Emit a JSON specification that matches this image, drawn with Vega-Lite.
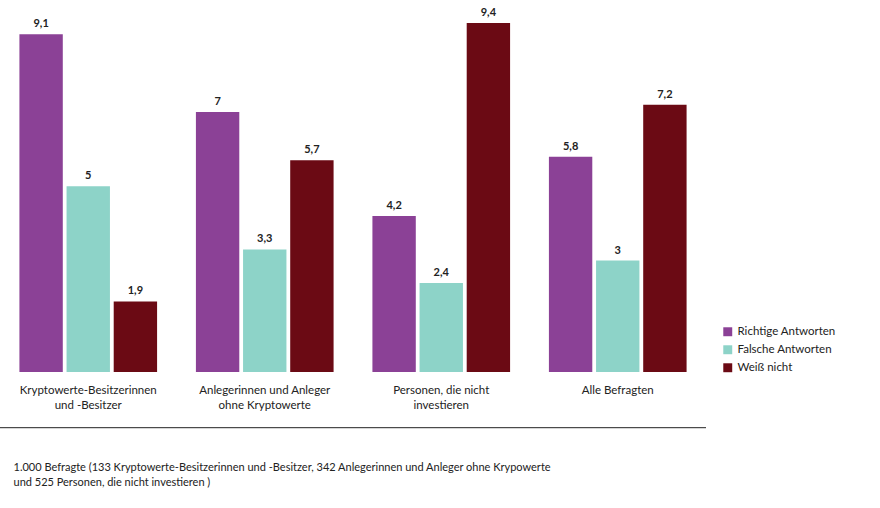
{
  "$schema": "https://vega.github.io/schema/vega-lite/v6.json",
  "width": 706,
  "height": 349,
  "padding": {"top": 23, "left": 0, "right": 174, "bottom": 136},
  "autosize": "none",
  "config": {"view": {"stroke": null}, "font": "Lato", "background": "white"},
  "data": {"values": [
    {"g": "Kryptowerte-Besitzerinnen|und -Besitzer", "s": "Richtige Antworten", "v": 9.1},
    {"g": "Kryptowerte-Besitzerinnen|und -Besitzer", "s": "Falsche Antworten", "v": 5},
    {"g": "Kryptowerte-Besitzerinnen|und -Besitzer", "s": "Weiß nicht", "v": 1.9},
    {"g": "Anlegerinnen und Anleger|ohne Kryptowerte", "s": "Richtige Antworten", "v": 7},
    {"g": "Anlegerinnen und Anleger|ohne Kryptowerte", "s": "Falsche Antworten", "v": 3.3},
    {"g": "Anlegerinnen und Anleger|ohne Kryptowerte", "s": "Weiß nicht", "v": 5.7},
    {"g": "Personen, die nicht|investieren", "s": "Richtige Antworten", "v": 4.2},
    {"g": "Personen, die nicht|investieren", "s": "Falsche Antworten", "v": 2.4},
    {"g": "Personen, die nicht|investieren", "s": "Weiß nicht", "v": 9.4},
    {"g": "Alle Befragten", "s": "Richtige Antworten", "v": 5.8},
    {"g": "Alle Befragten", "s": "Falsche Antworten", "v": 3},
    {"g": "Alle Befragten", "s": "Weiß nicht", "v": 7.2}
  ]},
  "title": {
    "text": ["1.000 Befragte (133 Kryptowerte-Besitzerinnen und -Besitzer, 342 Anlegerinnen und Anleger ohne Krypowerte", "und 525 Personen, die nicht investieren )"],
    "orient": "bottom", "anchor": "start", "fontSize": 11, "fontWeight": "normal", "color": "#222", "offset": 34, "dx": 14, "lineHeight": 15
  },
  "encoding": {
    "x": {"field": "g", "type": "nominal", "sort": null, "title": null,
      "scale": {"paddingInner": 0.22, "paddingOuter": 0.11},
      "axis": {"labelAngle": 0, "domain": false, "ticks": false, "labelFontSize": 11.5, "labelColor": "#222", "labelPadding": 12, "labelExpr": "split(datum.label, '|')", "labelLineHeight": 15}},
    "xOffset": {"field": "s", "type": "nominal", "sort": ["Richtige Antworten", "Falsche Antworten", "Weiß nicht"], "scale": {"paddingInner": 0.08}},
    "y": {"field": "v", "type": "quantitative", "scale": {"domain": [0, 9.4]}, "axis": null}
  },
  "layer": [
    {"mark": "bar",
      "encoding": {"color": {"field": "s", "type": "nominal", "sort": ["Richtige Antworten", "Falsche Antworten", "Weiß nicht"],
        "scale": {"range": ["#8b4196", "#8dd3c8", "#6b0a14"]},
        "legend": {"title": null, "orient": "none", "legendX": 722, "legendY": 303, "symbolType": "square", "symbolSize": 80, "labelFontSize": 11.5, "labelColor": "#222", "rowPadding": 5}}}},
    {"transform": [{"calculate": "replace(format(datum.v, '.1~f'), '.', ',')", "as": "lbl"}],
      "mark": {"type": "text", "dy": -10, "fontSize": 11, "fontWeight": "bold", "color": "#222"},
      "encoding": {"text": {"field": "lbl", "type": "nominal"}}},
    {"data": {"values": [{"y": -1.5}]},
      "mark": {"type": "rule", "color": "#222", "strokeWidth": 1},
      "encoding": {"y": {"field": "y", "type": "quantitative"}, "x": null, "xOffset": null}}
  ]
}
